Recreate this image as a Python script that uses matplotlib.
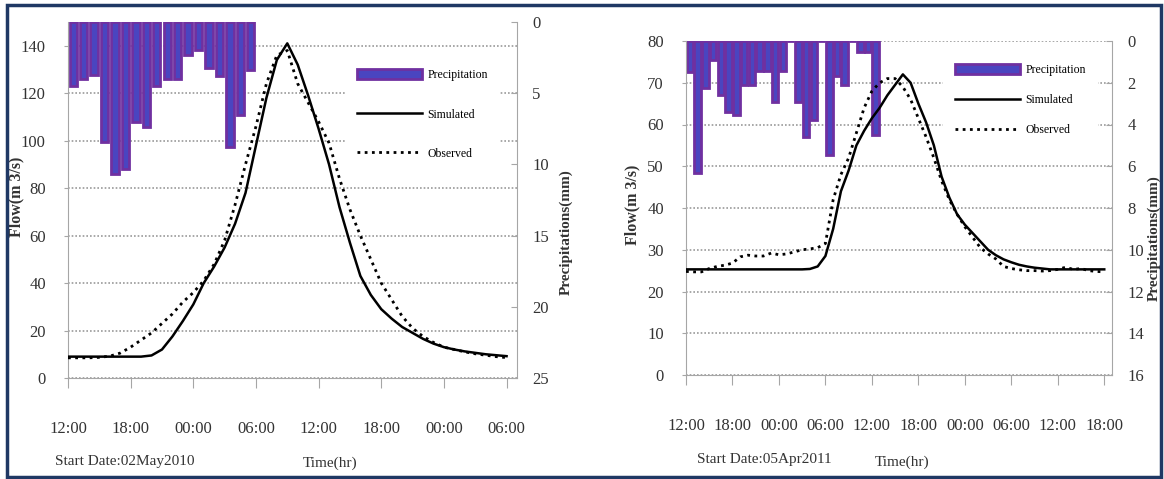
import numpy as np
import matplotlib
matplotlib.use('Agg')
import matplotlib.pyplot as plt
from matplotlib.patches import Rectangle

plt.rcParams['font.family'] = ['Liberation Serif', 'DejaVu Serif']

# ---------------- event 1 : start 02 May 2010 12:00 ----------------
hours1 = np.arange(43)
rain_hours1 = np.arange(18) + 0.5
rain1 = [4.5, 4.0, 3.7, 8.4, 10.7, 10.3, 7.0, 7.4, 4.5, 4.0, 4.0, 2.3, 2.0, 3.2,
         3.8, 8.8, 6.5, 3.4]
sim1 = [9, 9, 9, 9, 9, 9, 9, 9, 9.5, 12, 17.5, 24, 31, 40, 47, 55, 65, 78, 98,
        118, 134, 141, 132, 119, 105, 90, 72, 57, 43, 35, 29, 25, 21.5, 19,
        16.5, 14.5, 13, 12, 11.2, 10.6, 10, 9.6, 9.2]
obs1 = [8.5, 8.5, 8.5, 8.7, 9.2, 10.5, 13, 16, 19, 23, 27, 32, 36, 41, 48, 58,
        73, 90, 106, 124, 136, 138, 124, 116, 108, 99, 84, 71, 60, 50, 40, 33,
        26, 21, 17.5, 15, 13, 12, 11, 10.2, 9.6, 9, 8.6]
xlabels1 = ['12:00', '18:00', '00:00', '06:00', '12:00', '18:00', '00:00', '06:00']

# ---------------- event 2 : start 05 Apr 2011 12:00 ----------------
hours2 = np.arange(55)
rain_hours2 = np.arange(25) + 0.5
rain2 = [1.5, 6.3, 2.25, 0.9, 2.6, 3.4, 3.55, 2.1, 2.1, 1.45, 1.45, 2.9, 1.45, 0,
         2.9, 4.6, 3.8, 0, 5.45, 1.7, 2.1, 0, 0.55, 0.55, 4.5]
sim2 = [25.3, 25.3, 25.3, 25.3, 25.3, 25.3, 25.3, 25.3, 25.3, 25.3, 25.3, 25.3,
        25.3, 25.3, 25.3, 25.3, 25.4, 26, 28.5, 35, 44, 49, 55, 58.5, 61.5, 64,
        67, 69.5, 72, 70, 65, 60.5, 55, 47.5, 42.5, 38.5, 36, 34, 32, 30, 28.7,
        27.7, 27, 26.4, 26, 25.7, 25.5, 25.3, 25.3, 25.3, 25.3, 25.3, 25.3,
        25.3, 25.3]
obs2 = [24.8, 24.7, 24.7, 25.5, 26, 26.3, 26.8, 28.3, 28.7, 28.5, 28.5, 29.2,
        28.8, 29, 29.5, 30, 30.2, 30.5, 31.5, 42, 48, 52, 58, 64, 68, 70, 71,
        71, 69, 66, 61.5, 57, 52, 46.5, 42, 38.5, 35.5, 33, 30.5, 29, 27.8, 26,
        25.5, 25.2, 25, 25, 24.9, 25, 25.3, 25.8, 25.3, 25.5, 25, 24.8, 24.7]
xlabels2 = ['12:00', '18:00', '00:00', '06:00', '12:00', '18:00', '00:00',
            '06:00', '12:00', '18:00']

W, H = 1164, 479
fig = plt.figure(figsize=(W / 100, H / 100), dpi=100)

PURPLE = '#7030A0'
BLUE = '#4A45C0'
GRID = '#9A9A9A'
SPINE = '#A6A6A6'
TXT = '#333333'


def panel(box, t, sim, obs, rt, rain, xmax, fmax, fstep, ftop, rmax, rstep,
          xlabels, bar_w, bar_lw, leg_xy, leg_space, flow_lx, rain_lx, date,
          date_xy, time_xy):
    x0, y0, x1, y1 = box
    ax = fig.add_axes([x0 / W, 1 - y1 / H, (x1 - x0) / W, (y1 - y0) / H])
    axp = ax.twinx()

    ax.set_xlim(0, xmax)
    ax.set_ylim(0, ftop)
    axp.set_ylim(rmax, 0)

    ax.set_xticks(np.arange(0, xmax, 6))
    ax.set_xticklabels(xlabels)
    ax.set_yticks(np.arange(0, fmax + 1, fstep))
    axp.set_yticks(np.arange(0, rmax + 1, rstep))

    ax.grid(axis='y', color=GRID, lw=1.2, ls=(0, (1, 1.2)), zorder=0)
    ax.set_axisbelow(True)

    # rain bars hang from the top, drawn in the precipitation scale
    bars = ax.bar(rt, rain, width=bar_w, bottom=0, transform=axp.transData,
                  facecolor=BLUE, edgecolor=PURPLE, lw=bar_lw, zorder=2,
                  label='Precipitation')
    l_sim, = ax.plot(t, sim, color='black', lw=1.8, zorder=3, label='Simulated')
    l_obs, = ax.plot(t, obs, color='black', lw=2.0, ls=(0, (1, 1.6)), zorder=3,
                     label='Observed')

    for s in ['top', 'right']:
        ax.spines[s].set_visible(False)
    for s in ['left', 'bottom']:
        ax.spines[s].set_color(SPINE)
    for s in ['top', 'left', 'bottom']:
        axp.spines[s].set_visible(False)
    axp.spines['right'].set_color(SPINE)

    ax.tick_params(axis='x', direction='out', length=7, color=SPINE, pad=24,
                   labelsize=12, labelcolor=TXT)
    ax.tick_params(axis='y', direction='out', length=3, color=SPINE, pad=13,
                   labelsize=12, labelcolor=TXT)
    axp.tick_params(axis='y', direction='in', length=4, color=SPINE, pad=11,
                    labelsize=12, labelcolor=TXT)

    ax.set_ylabel('Flow(m 3/s)', fontsize=11.5, fontweight='bold', color=TXT)
    ax.yaxis.set_label_coords(flow_lx, 0.51)
    axp.set_ylabel('Precipitations(mm)', fontsize=11, fontweight='bold',
                   color=TXT)
    axp.yaxis.set_label_coords(rain_lx, 0.41)

    leg = ax.legend([bars, l_sim, l_obs], ['Precipitation', 'Simulated', 'Observed'],
                    loc='upper left', bbox_to_anchor=(leg_xy[0] / W, 1 - leg_xy[1] / H),
                    bbox_transform=fig.transFigure, fontsize=8.5, frameon=True,
                    fancybox=False, facecolor='white', framealpha=1,
                    handlelength=5.5, handleheight=1.0, handletextpad=0.5,
                    labelspacing=leg_space, borderpad=1.0, borderaxespad=0)
    leg.get_frame().set_linewidth(0)
    leg.set_zorder(6)

    fig.text(date_xy[0] / W, 1 - date_xy[1] / H, date, fontsize=11,
             ha='left', va='center', color=TXT)
    fig.text(time_xy[0] / W, 1 - time_xy[1] / H, 'Time(hr)', fontsize=11,
             ha='center', va='center', color=TXT)
    return ax


panel((68, 22, 517, 378), hours1, sim1, obs1, rain_hours1, rain1, 43,
      140, 20, 150, 25, 5, xlabels1, 0.7, 2.0, (345, 57), 2.3, -0.098, 1.095,
      'Start Date:02May2010', (55, 462), (330, 463))

panel((686, 41, 1112, 375), hours2, sim2, obs2, rain_hours2, rain2, 55,
      80, 10, 80, 16, 2, xlabels2, 0.85, 2.0, (943, 52), 1.5, -0.108, 1.082,
      'Start Date:05Apr2011', (697, 460), (902, 462))

# dark frame round the whole figure
fig.add_artist(Rectangle((7 / W, 2 / H), (1161 - 7) / W, (476 - 4) / H,
                         transform=fig.transFigure, fill=False,
                         edgecolor='#1F3864', lw=2.5))

fig.savefig('out.png', dpi=100)
